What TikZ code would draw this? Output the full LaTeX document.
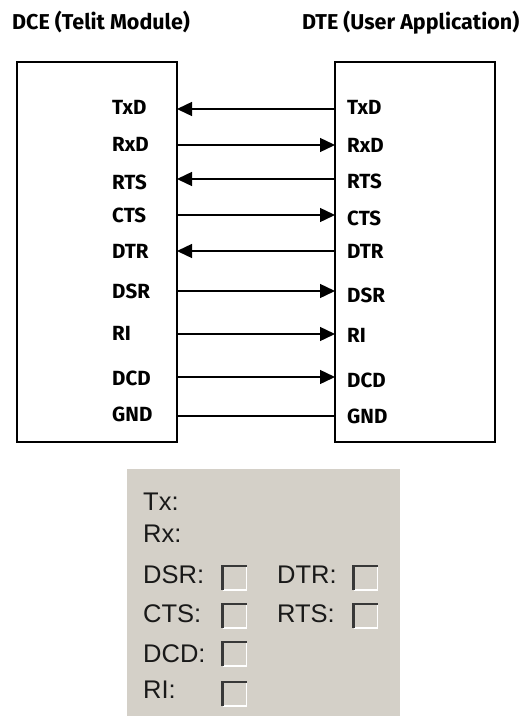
\documentclass[tikz,border=0pt]{standalone}
\usepackage{fontspec}
\setmainfont{Fira Sans}
\newfontfamily\panelfont{Liberation Sans}
\usetikzlibrary{arrows.meta}
\definecolor{panelgray}{RGB}{212,208,200}
\definecolor{chkdark}{RGB}{56,56,56}
\tikzset{
  sig/.style={font=\fontsize{20.5}{24}\selectfont\bfseries, anchor=base west, inner sep=0pt},
  ttl/.style={font=\fontsize{21.5}{25}\selectfont\bfseries, anchor=base west, inner sep=0pt},
  pnl/.style={font=\panelfont\fontsize{25.5}{30}\selectfont, anchor=base west, inner sep=0pt, text=black!90},
  wire/.style={line width=1.4pt},
  tip/.style={wire, -{Triangle[length=15pt,width=14pt]}},
  chk/.style={minimum size=24pt, inner sep=0pt, outer sep=0pt, fill=panelgray}
}
\begin{document}
\begin{tikzpicture}[x=1pt,y=1pt,yscale=-1]
	\useasboundingbox (0,0) rectangle (528,718);
	
	% Titles
	\node[ttl] (dcettl) at (12,29) {DCE (Telit Module)};
	\node[ttl] (dtettl) at (302,29) {DTE (User Application)};
	
	% Boxes
	\draw[line width=1.6pt] (17,62) rectangle (177,442);
	\draw[line width=1.6pt] (335,62) rectangle (495,442);
	
	% DCE pins
	\coordinate (dTxD) at (177,109);
	\coordinate (dRxD) at (177,145);
	\coordinate (dRTS) at (177,179);
	\coordinate (dCTS) at (177,215);
	\coordinate (dDTR) at (177,251);
	\coordinate (dDSR) at (177,291);
	\coordinate (dRI)  at (177,334);
	\coordinate (dDCD) at (177,377);
	\coordinate (dGND) at (177,416);
	% DTE pins
	\coordinate (tTxD) at (335,109);
	\coordinate (tRxD) at (335,145);
	\coordinate (tRTS) at (335,179);
	\coordinate (tCTS) at (335,215);
	\coordinate (tDTR) at (335,251);
	\coordinate (tDSR) at (335,291);
	\coordinate (tRI)  at (335,334);
	\coordinate (tDCD) at (335,377);
	\coordinate (tGND) at (335,416);
	
	% Signal lines
	\draw[tip] (tTxD) -- (dTxD);
	\draw[tip] (dRxD) -- (tRxD);
	\draw[tip] (tRTS) -- (dRTS);
	\draw[tip] (dCTS) -- (tCTS);
	\draw[tip] (tDTR) -- (dDTR);
	\draw[tip] (dDSR) -- (tDSR);
	\draw[tip] (dRI) -- (tRI);
	\draw[tip] (dDCD) -- (tDCD);
	\draw[wire] (dGND) -- (tGND);
	
	% Text Node (DCE side)
	\node[sig] (lTxD) at (112,114.5) {TxD};
	\node[sig] (lRxD) at (112,151.5) {RxD};
	\node[sig] (lRTS) at (112,189) {RTS};
	\node[sig] (lCTS) at (112,222.5) {CTS};
	\node[sig] (lDTR) at (112,258.5) {DTR};
	\node[sig] (lDSR) at (112,298) {DSR};
	\node[sig] (lRI)  at (112,340) {RI};
	\node[sig] (lDCD) at (112,385) {DCD};
	\node[sig] (lGND) at (112,421.5) {GND};
	% Text Node (DTE side)
	\node[sig] (rTxD) at (347,114.5) {TxD};
	\node[sig] (rRxD) at (347,152) {RxD};
	\node[sig] (rRTS) at (347,188.5) {RTS};
	\node[sig] (rCTS) at (347,225) {CTS};
	\node[sig] (rDTR) at (347,258.5) {DTR};
	\node[sig] (rDSR) at (347,302) {DSR};
	\node[sig] (rRI)  at (347,342) {RI};
	\node[sig] (rDCD) at (347,387) {DCD};
	\node[sig] (rGND) at (347,423) {GND};
	
	% Status panel
	\fill[panelgray] (127,469) rectangle (400,716);
	\node[pnl] (pTx)  at (143,510) {Tx:};
	\node[pnl] (pRx)  at (143,542) {Rx:};
	\node[pnl] (pDSR) at (143,583) {DSR:};
	\node[pnl] (pCTS) at (143,622) {CTS:};
	\node[pnl] (pDCD) at (143,662) {DCD:};
	\node[pnl] (pRI)  at (143,698) {RI:};
	\node[pnl] (pDTR) at (277,583) {DTR:};
	\node[pnl] (pRTS) at (277,622) {RTS:};
	% Checkboxes
	\node[chk] (cDSR) at (234.5,578) {};
	\node[chk] (cCTS) at (234.5,616) {};
	\node[chk] (cDCD) at (234.5,654) {};
	\node[chk] (cRI)  at (234.5,694) {};
	\node[chk] (cDTR) at (365.5,578) {};
	\node[chk] (cRTS) at (365.5,616) {};
	\foreach \c in {cDSR,cCTS,cDCD,cRI,cDTR,cRTS}{
	  \draw[white, line width=1.2pt] (\c.south west) -- (\c.south east) -- (\c.north east);
	  \draw[chkdark, line width=2.6pt] (\c.south west) -- (\c.north west) -- (\c.north east);
	}
	
\end{tikzpicture}
\end{document}
